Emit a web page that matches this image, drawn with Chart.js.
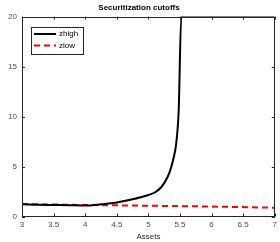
<!DOCTYPE html>
<html>
<head>
<meta charset="utf-8">
<script src="https://cdn.jsdelivr.net/npm/chart.js@4/dist/chart.umd.min.js"></script>
<style>
  html, body { margin: 0; padding: 0; background: #fff; }
  #wrap { width: 280px; height: 242px; }
</style>
</head>
<body>
<div id="wrap"><canvas id="myChart"></canvas></div>
<script>
const highAssets = [3, 3.25, 3.5, 3.75, 4, 4.25, 4.5, 4.75, 5, 5.1, 5.2, 5.3, 5.35, 5.4, 5.44, 5.48, 5.52, 6, 6.5, 7];
const zhigh = [1.22, 1.18, 1.15, 1.12, 1.1, 1.22, 1.4, 1.72, 2.15, 2.4, 2.9, 3.9, 4.7, 5.9, 7.3, 10.7, 20, 20, 20, 20];
const lowAssets = [3, 4, 5, 6, 7];
const zlow = [1.25, 1.15, 1.08, 1.0, 0.88];
const xTicks = [3, 3.5, 4, 4.5, 5, 5.5, 6, 6.5, 7];
const yTicks = [0, 5, 10, 15, 20];

const toPoints = (xs, ys) => xs.map((x, i) => ({ x: x, y: ys[i] }));

// matlab style box, inward ticks and legend
const boxPlugin = {
  id: "box",
  afterDatasetsDraw(chart) {
    const ctx = chart.ctx;
    const a = chart.chartArea;
    const xs = chart.scales.x;
    const ys = chart.scales.y;
    ctx.save();
    ctx.strokeStyle = "#262626";
    ctx.lineWidth = 1;
    ctx.beginPath();
    xTicks.forEach((t) => {
      const px = Math.round(xs.getPixelForValue(t)) + 0.5;
      ctx.moveTo(px, a.bottom); ctx.lineTo(px, a.bottom - 3);
      ctx.moveTo(px, a.top); ctx.lineTo(px, a.top + 3);
    });
    yTicks.forEach((t) => {
      const py = Math.round(ys.getPixelForValue(t)) + 0.5;
      ctx.moveTo(a.left, py); ctx.lineTo(a.left + 3, py);
      ctx.moveTo(a.right, py); ctx.lineTo(a.right - 3, py);
    });
    ctx.stroke();
    ctx.strokeRect(Math.round(a.left) + 0.5, Math.round(a.top) + 0.5,
      Math.round(a.right - a.left) - 1, Math.round(a.bottom - a.top) - 1);

    // legend
    const lx = 31.5, ly = 27.5;
    ctx.fillStyle = "#fff";
    ctx.fillRect(lx, ly, 52, 27);
    ctx.strokeStyle = "#262626";
    ctx.strokeRect(lx, ly, 52, 27);
    ctx.font = "8px 'Liberation Sans', Arial, sans-serif";
    ctx.textBaseline = "middle";
    chart.data.datasets.forEach((ds, i) => {
      const y = 34 + i * 11.5;
      ctx.strokeStyle = ds.borderColor;
      ctx.lineWidth = ds.borderWidth;
      ctx.setLineDash(ds.borderDash || []);
      ctx.beginPath();
      ctx.moveTo(34, y); ctx.lineTo(56, y);
      ctx.stroke();
      ctx.setLineDash([]);
      ctx.fillStyle = "#000";
      ctx.fillText(ds.label, 59, y);
    });
    ctx.restore();
  }
};

const fontFam = "'Liberation Sans', Arial, sans-serif";

const ctx = document.getElementById("myChart");
const chart = new Chart(ctx, {
  type: "scatter",
  data: {
    datasets: [
      {
        label: "zhigh",
        data: toPoints(highAssets, zhigh),
        showLine: true,
        borderColor: "#000000",
        borderWidth: 2,
        pointRadius: 0,
        cubicInterpolationMode: "monotone",
      },
      {
        label: "zlow",
        data: toPoints(lowAssets, zlow),
        showLine: true,
        borderColor: "#ff0000",
        borderWidth: 2,
        borderDash: [6, 4],
        pointRadius: 0,
      },
    ],
  },
  options: {
    responsive: true,
    maintainAspectRatio: false,
    animation: false,
    layout: { padding: { left: 0, right: 2, top: 0, bottom: 0 } },
    scales: {
      x: {
        type: "linear",
        min: 3,
        max: 7,
        afterBuildTicks: (s) => { s.ticks = xTicks.map((v) => ({ value: v })); },
        afterFit: (s) => { s.height = 25.5; },
        grid: { display: false, drawTicks: false },
        border: { display: false },
        ticks: {
          color: "#4d4d4d",
          padding: 3,
          maxRotation: 0,
          callback: (v) => String(v),
          font: { family: fontFam, size: 8 },
        },
        title: {
          display: true,
          text: "Assets",
          color: "#262626",
          padding: { top: 0, bottom: 0 },
          font: { family: fontFam, size: 8 },
        },
      },
      y: {
        min: 0,
        max: 20,
        afterBuildTicks: (s) => { s.ticks = yTicks.map((v) => ({ value: v })); },
        afterFit: (s) => { s.width = 22; },
        grid: { display: false, drawTicks: false },
        border: { display: false },
        ticks: {
          color: "#4d4d4d",
          padding: 5,
          callback: (v) => String(v),
          font: { family: fontFam, size: 8 },
        },
      },
    },
    plugins: {
      legend: { display: false },
      tooltip: { enabled: false },
      title: {
        display: true,
        text: "Securitization cutoffs",
        color: "#000",
        padding: { top: 3, bottom: 4 },
        font: { family: fontFam, size: 8, weight: "bold" },
      },
    },
  },
  plugins: [boxPlugin],
});
</script>
</body>
</html>
